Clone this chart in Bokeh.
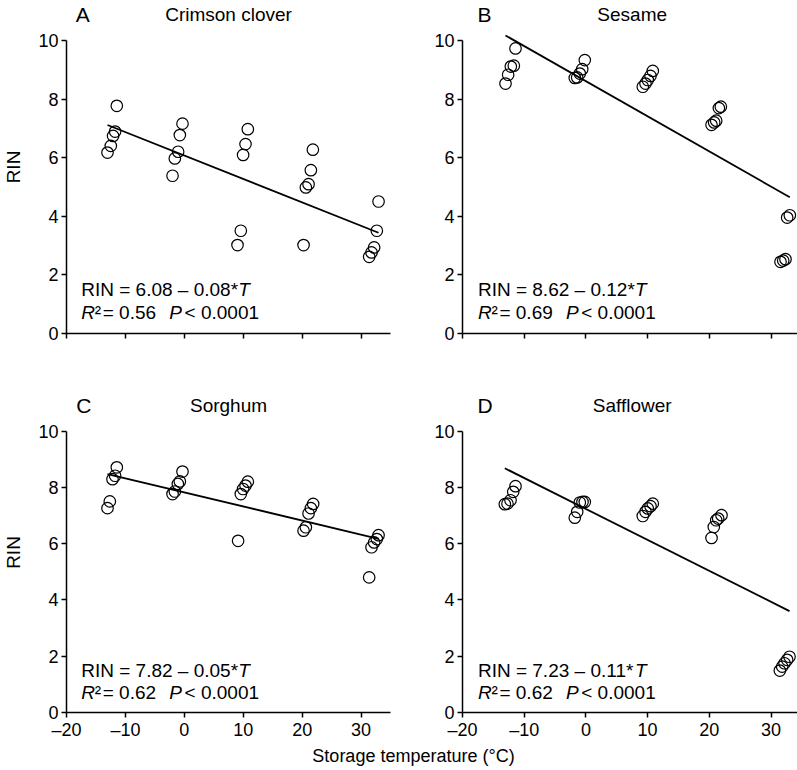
import numpy as np
from bokeh.plotting import figure
from bokeh.models import Label, FixedTicker, Range1d
from bokeh.layouts import column, row
from bokeh.embed import file_html
from bokeh.resources import INLINE

# ---------------- data ----------------
panel_letters = ["A", "B", "C", "D"]
crop_names = ["Crimson clover", "Sesame", "Sorghum", "Safflower"]

clover_T = [-11.46, -11.75, -12.09, -12.48, -13.04, -0.31, -0.76, -1.05, -1.61, -2.0,
            10.78, 10.39, 9.98, 9.59, 9.03, 21.82, 21.48, 21.09, 20.63, 20.24,
            32.97, 32.68, 32.22, 31.78, 31.38]
clover_RIN = [7.78, 6.90, 6.75, 6.41, 6.18, 7.17, 6.78, 6.21, 5.98, 5.39,
              6.98, 6.47, 6.10, 3.51, 3.02, 6.28, 5.58, 5.10, 4.99, 3.02,
              4.51, 3.51, 2.94, 2.77, 2.62]

sesame_T = [-11.41, -11.68, -12.17, -12.60, -13.03, -0.18, -0.60, -0.99, -1.41, -1.80,
            10.84, 10.47, 10.03, 9.66, 9.22, 21.87, 21.55, 21.12, 20.79, 20.36,
            33.05, 32.62, 32.35, 31.98, 31.54]
sesame_RIN = [9.74, 9.15, 9.12, 8.84, 8.54, 9.34, 9.03, 8.88, 8.75, 8.73,
              8.97, 8.80, 8.66, 8.54, 8.43, 7.75, 7.70, 7.27, 7.21, 7.13,
              4.04, 3.96, 2.54, 2.49, 2.45]

sorghum_T = [-11.46, -11.75, -12.19, -12.65, -13.04, -0.31, -0.76, -1.10, -1.61, -2.0,
             10.78, 10.39, 9.98, 9.59, 9.13, 21.87, 21.48, 21.09, 20.63, 20.24,
             32.97, 32.68, 32.22, 31.78, 31.38]
sorghum_RIN = [8.71, 8.41, 8.29, 7.50, 7.26, 8.56, 8.21, 8.12, 7.85, 7.76,
               8.20, 8.06, 7.94, 7.76, 6.10, 7.41, 7.26, 7.07, 6.58, 6.46,
               6.30, 6.16, 6.04, 5.87, 4.80]

safflower_T = [-11.41, -11.78, -12.22, -12.71, -13.14, -0.18, -0.55, -0.99, -1.41, -1.80,
               10.84, 10.47, 10.03, 9.66, 9.22, 21.98, 21.44, 21.12, 20.73, 20.36,
               33.0, 32.62, 32.19, 31.81, 31.43]
safflower_RIN = [8.04, 7.84, 7.54, 7.42, 7.40, 7.48, 7.48, 7.46, 7.13, 6.92,
                 7.42, 7.33, 7.25, 7.13, 6.98, 7.01, 6.89, 6.83, 6.59, 6.20,
                 1.98, 1.87, 1.75, 1.63, 1.49]

intercepts = [6.08, 8.62, 7.82, 7.23]
slopes = [-0.08, -0.12, -0.05, -0.11]
r2_values = ["0.56", "0.69", "0.62", "0.62"]
p_value_text = "< 0.0001"

x_ticks = [-20, -10, 0, 10, 20, 30]
x_tick_labels = ["\u201320", "\u201310", "0", "10", "20", "30"]
y_ticks = [0, 2, 4, 6, 8, 10]
y_tick_labels = ["0", "2", "4", "6", "8", "10"]

x_axis_title = "Storage temperature (\u00b0C)"
y_axis_title = "RIN"

FONT = "Liberation Sans"

T_all = [clover_T, sesame_T, sorghum_T, safflower_T]
R_all = [clover_RIN, sesame_RIN, sorghum_RIN, safflower_RIN]


def make_panel(i, frame_w, x_end, frame_h, y_end, bl, br, bt, bb,
               show_xlabels, show_ylabel, letter_x):
    p = figure(frame_width=frame_w, frame_height=frame_h,
               x_range=Range1d(-20, x_end), y_range=Range1d(0, y_end),
               min_border_left=bl, min_border_right=br,
               min_border_top=bt, min_border_bottom=bb,
               toolbar_location=None, output_backend="svg")
    p.grid.visible = False
    p.outline_line_color = None
    p.background_fill_color = "white"
    p.border_fill_color = "white"

    for ax in (p.xaxis[0], p.yaxis[0]):
        ax.axis_line_width = 1.5
        ax.axis_line_color = "black"
        ax.major_tick_line_width = 1.5
        ax.major_tick_line_color = "black"
        ax.major_tick_out = 5
        ax.major_tick_in = 0
        ax.minor_tick_line_color = None
        ax.major_label_text_font = FONT
        ax.major_label_text_font_size = "18px"
        ax.major_label_text_color = "black"

    xa = p.xaxis[0]
    xa.ticker = FixedTicker(ticks=x_ticks, minor_ticks=[])
    if show_xlabels:
        xa.major_label_overrides = {t: s for t, s in zip(x_ticks, x_tick_labels)}
    else:
        xa.major_label_overrides = {t: "" for t in x_ticks}
    xa.major_label_standoff = 2

    ya = p.yaxis[0]
    ya.ticker = FixedTicker(ticks=y_ticks, minor_ticks=[])
    ya.major_label_overrides = {t: s for t, s in zip(y_ticks, y_tick_labels)}
    ya.bounds = (y_ticks[0], y_ticks[-1])
    ya.major_label_standoff = 3
    if show_ylabel:
        ya.axis_label = y_axis_title
        ya.axis_label_text_font = FONT
        ya.axis_label_text_font_size = "19px"
        ya.axis_label_text_font_style = "normal"
        ya.axis_label_text_color = "black"
        ya.axis_label_standoff = 11

    T = np.array(T_all[i])
    R = np.array(R_all[i])
    xs = np.array([T.min(), T.max()])
    ys = intercepts[i] + slopes[i] * xs
    p.line(xs, ys, line_color="black", line_width=1.8)
    p.scatter(T, R, marker="circle", size=11.5, fill_color=None,
              line_color="black", line_width=1.2)

    # panel letter and crop name
    p.add_layout(Label(x=letter_x, y=10.89, text=panel_letters[i], text_font=FONT,
                       text_font_size="21px", text_font_style="normal",
                       text_align="left", text_baseline="alphabetic",
                       text_color="black"))
    p.add_layout(Label(x=7.5, y=10.89, text=crop_names[i], text_font=FONT,
                       text_font_size="19px", text_font_style="normal",
                       text_align="center", text_baseline="alphabetic",
                       text_color="black"))

    # regression equation
    eq_x = -17.5
    eq1 = "RIN = %.2f \u2013 %.2f*" % (intercepts[i], abs(slopes[i]))
    segs1 = [(eq1, "normal", 0), ("T", "italic", 157)]
    segs2 = [("R", "italic", 0), ("\u00b2", "normal", 13.5),
             ("= " + r2_values[i], "normal", 21.5), ("P", "italic", 88),
             (p_value_text, "normal", 103.3)]
    for segs, yy in ((segs1, 1.49), (segs2, 0.715)):
        for txt, style, off in segs:
            p.add_layout(Label(x=eq_x, y=yy, x_offset=off, text=txt, text_font=FONT,
                               text_font_size="19px", text_font_style=style,
                               text_align="left", text_baseline="alphabetic",
                               text_color="black"))
    return p


top_h = 333
top_yend = top_h / 29.27
bot_h = 320
bot_yend = bot_h / 28.15
left_w = 324
right_w = 338
right_xend = -20 + right_w / 6.17

pA = make_panel(0, left_w, 35, top_h, top_yend, 61, 16, 0, 59, False, True, -18.45)
pB = make_panel(1, right_w, right_xend, top_h, top_yend, 56, 0, 0, 59, False, False, -17.55)
pC = make_panel(2, left_w, 35, bot_h, bot_yend, 61, 16, 0, 28, True, True, -18.35)
pD = make_panel(3, right_w, right_xend, bot_h, bot_yend, 56, 0, 0, 28, True, False, -17.55)

total_w = 61 + left_w + 16 + 56 + right_w
px = figure(width=total_w, height=28, x_range=Range1d(0, 1), y_range=Range1d(0, 1),
            x_axis_type=None, y_axis_type=None, min_border=0,
            toolbar_location=None, output_backend="svg")
px.grid.visible = False
px.outline_line_color = None
px.add_layout(Label(x=413 / total_w, y=15 / 28, text=x_axis_title, text_font=FONT,
                    text_font_size="18px", text_font_style="normal", text_align="center",
                    text_baseline="alphabetic", text_color="black"))

layout = column(row(pA, pB), row(pC, pD), px)
open("out.html", "w").write(file_html(layout, INLINE))
